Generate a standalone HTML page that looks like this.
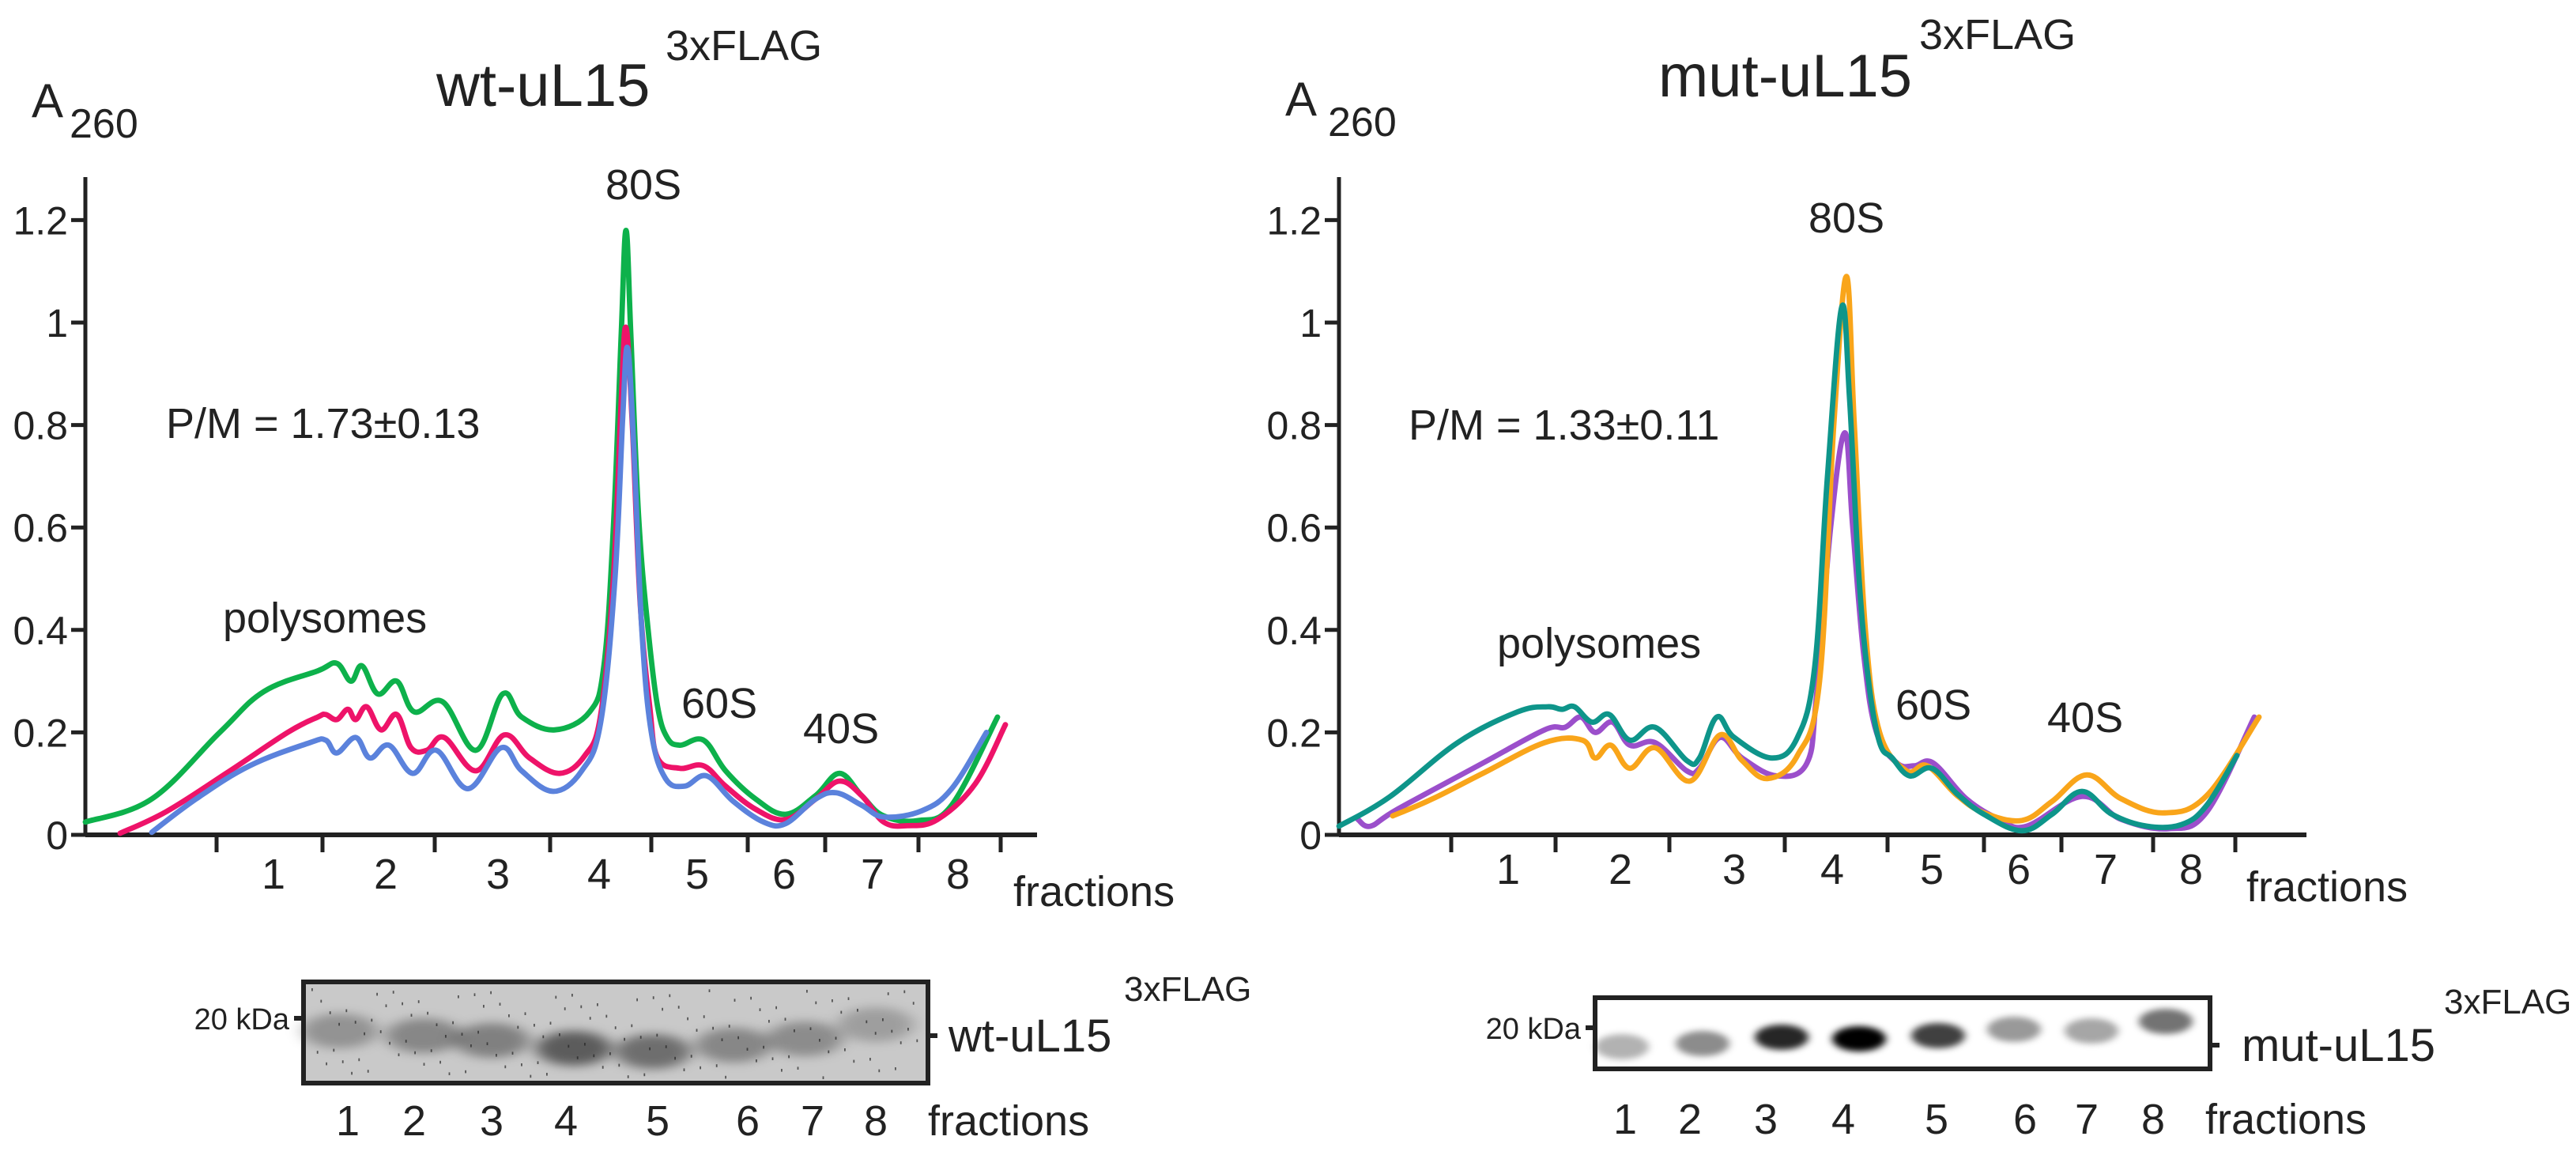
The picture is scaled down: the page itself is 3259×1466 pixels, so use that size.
<!DOCTYPE html>
<html><head><meta charset="utf-8"><style>
html,body{margin:0;padding:0;background:#fff;}
svg{display:block;}
text{font-family:"Liberation Sans",Arial,sans-serif;fill:#222;}
</style></head><body>
<svg id="fig" width="3259" height="1466" viewBox="0 0 1629.5 733" xmlns="http://www.w3.org/2000/svg">
<defs>
<filter id="blur" x="-30%" y="-60%" width="160%" height="220%"><feGaussianBlur stdDeviation="5 3"/></filter>
<filter id="blur2" x="-30%" y="-60%" width="160%" height="220%"><feGaussianBlur stdDeviation="2.5 2"/></filter>
</defs>
<g id="left"></g>
<g id="right"></g>
</svg>
<script>
// ---- data: position along gradient (0..axis length) and A260 ----
const yTicks = [0, 0.2, 0.4, 0.6, 0.8, 1, 1.2];
const yTickLabels = ["0", "0.2", "0.4", "0.6", "0.8", "1", "1.2"];
const fractionLabels = ["1","2","3","4","5","6","7","8"];
const wtGreenPos = [0,42,85,113,147,159,168,175,185,197,208,226,247,264,276,297,319,328,334,339,342,345,350,356,362,368,376,391,405,424,443,462,477,491,505,527,548,577];
const wtGreenVal = [.025,.07,.20,.28,.32,.335,.30,.33,.275,.30,.24,.26,.165,.275,.23,.205,.24,.33,.6,.98,1.18,.98,.62,.40,.25,.19,.175,.185,.125,.07,.04,.077,.12,.077,.037,.028,.058,.23];
const wtPinkPos = [22,51,89,128,147,152,159,166,171,178,187,197,206,216,227,247,265,281,300,316,326,334,339,342,346,351,357,362,376,391,405,424,443,462,477,491,505,520,539,563,582];
const wtPinkVal = [.003,.045,.12,.20,.23,.235,.225,.245,.225,.25,.205,.235,.17,.165,.19,.125,.195,.15,.12,.155,.235,.5,.85,.99,.8,.45,.25,.15,.13,.135,.095,.05,.03,.07,.105,.077,.025,.018,.03,.10,.215];
const wtBluePos = [42,70,104,142,152,159,171,180,192,207,222,242,263,276,296,314,326,335,340,343,347,352,358,367,379,393,410,429,443,462,475,491,505,529,548,570];
const wtBlueVal = [.005,.07,.135,.18,.185,.16,.19,.15,.175,.12,.165,.09,.17,.125,.085,.125,.22,.5,.82,.95,.75,.4,.2,.11,.095,.115,.065,.025,.022,.07,.082,.058,.035,.047,.09,.20];
const mutTealPos = [0,32,75,113,132,141,149,160,171,184,200,220,228,239,250,274,290,301,309,318,323,329,335,342,350,361,375,391,408,432,451,470,489,511,533,549,568];
const mutTealVal = [.017,.074,.18,.24,.25,.245,.25,.22,.235,.185,.21,.145,.15,.23,.19,.15,.19,.33,.7,1.03,.85,.5,.3,.18,.15,.115,.13,.08,.04,.008,.04,.085,.04,.017,.02,.058,.155];
const mutPurplePos = [12,20,37,91,130,143,153,162,173,184,200,220,228,241,255,277,296,302,311,320,325,332,340,353,364,376,397,418,435,470,495,525,549,579];
const mutPurpleVal = [.03,.017,.05,.14,.205,.21,.23,.2,.22,.175,.18,.125,.13,.19,.15,.115,.14,.27,.6,.785,.6,.35,.2,.14,.135,.14,.07,.03,.017,.075,.03,.012,.045,.23];
const mutOrangePos = [34,59,91,130,154,162,172,184,200,222,241,255,271,290,304,313,321,326,333,342,359,372,391,408,432,451,473,495,522,549,582];
const mutOrangeVal = [.037,.07,.12,.18,.185,.15,.175,.13,.17,.105,.195,.145,.11,.155,.30,.8,1.09,.8,.4,.2,.125,.135,.077,.043,.028,.065,.117,.07,.043,.077,.23];
const wtBandIntensity = [0.45,0.55,0.6,0.9,0.75,0.55,0.5,0.35];
const mutBandIntensity = [0.3,0.45,0.85,1.0,0.75,0.4,0.35,0.55];

const NS = "http://www.w3.org/2000/svg";
function mk(parent, tag, attrs, txt){
  const e = document.createElementNS(NS, tag);
  for (const k in attrs) e.setAttribute(k, attrs[k]);
  if (txt !== undefined) e.textContent = txt;
  parent.appendChild(e); return e;
}
function smoothPath(pts){
  let d = "M" + pts[0][0].toFixed(1) + "," + pts[0][1].toFixed(1);
  for (let i=0;i<pts.length-1;i++){
    const p0 = pts[i-1]||pts[i], p1=pts[i], p2=pts[i+1], p3=pts[i+2]||p2;
    const t=0.18;
    const c1=[p1[0]+(p2[0]-p0[0])*t, p1[1]+(p2[1]-p0[1])*t];
    const c2=[p2[0]-(p3[0]-p1[0])*t, p2[1]-(p3[1]-p1[1])*t];
    d += " C"+c1[0].toFixed(1)+","+c1[1].toFixed(1)+" "+c2[0].toFixed(1)+","+c2[1].toFixed(1)+" "+p2[0].toFixed(1)+","+p2[1].toFixed(1);
  }
  return d;
}

function panel(g, cfg){
  const x0=cfg.x0, x1=cfg.x1, len=cfg.len, yBase=528, yPer=324;
  const xS = p => x0 + p*(x1-x0)/len;
  const yS = v => yBase - v*yPer;
  const ya = mk(g,"line",{x1:x0,y1:112,x2:x0,y2:yBase+1,stroke:"#222","stroke-width":2.5});
  
  
  yTicks.forEach((t,i)=>{
    const tk = mk(g,"line",{x1:x0-9,y1:yS(t),x2:x0,y2:yS(t),stroke:"#222","stroke-width":2.5});
    
    
    const lb = mk(g,"text",{x:x0-11,y:yS(t)+9,"font-size":25,"text-anchor":"end"},yTickLabels[i]);
    
    
  });
  const xa = mk(g,"line",{x1:x0,y1:yBase,x2:x1,y2:yBase,stroke:"#222","stroke-width":3});
  
  
  cfg.ticks.forEach(tx=>{
    const t = mk(g,"line",{x1:tx,y1:yBase,x2:tx,y2:yBase+11,stroke:"#222","stroke-width":2.5});
    
    
  });
  fractionLabels.forEach((l,i)=>{
    const t = mk(g,"text",{x:cfg.labX[i],y:cfg.labY,"font-size":27,"text-anchor":"middle"},l);
    
    
  });
  const fr = mk(g,"text",{x:cfg.fracX,y:cfg.labY+11,"font-size":27},"fractions");
  
  
  cfg.series.forEach(s=>{
    const pts = s.pos.map((p,i)=>[xS(p), yS(s.val[i])]);
    const path = mk(g,"path",{d:smoothPath(pts),fill:"none",stroke:s.color,"stroke-width":3.4,"stroke-linejoin":"round","stroke-linecap":"round"});
    
    
  });
  cfg.texts.forEach(t=>{
    const e = mk(g,"text",{x:t[0],y:t[1],"font-size":t[2]},t[3]);
    
    
  });
  const b = cfg.blot;
  const bg = mk(g,"rect",{x:b.x,y:b.y,width:b.w,height:b.h,fill:b.bg});
  
  
  b.lanes.forEach((lx,i)=>{
    const it = b.intens[i];
    const band = mk(g,"ellipse",{cx:lx,cy:b.bandY[i],rx:b.rx,ry:b.ry,fill:"#000","fill-opacity":Math.min(1,it*b.op),filter:b.filter});
    
    
  });
  if (b.speckle){
    for (let k=0;k<140;k++){
      const sx = b.x+5+((k*37.7)%(b.w-10)), sy = b.y+4+((k*19.3)%(b.h-8));
      mk(g,"rect",{x:sx,y:sy,width:0.9,height:1.8,fill:"#222","fill-opacity":0.7});
    }
  }
  const br = mk(g,"rect",{x:b.x,y:b.y,width:b.w,height:b.h,fill:"none",stroke:"#222","stroke-width":3});
  
  
  mk(g,"line",{x1:b.x-6,y1:b.kdaY,x2:b.x,y2:b.kdaY,stroke:"#222","stroke-width":3});
  mk(g,"line",{x1:b.x+b.w,y1:b.protY,x2:b.x+b.w+6,y2:b.protY,stroke:"#222","stroke-width":3});
  const kd = mk(g,"text",{x:b.x-9,y:b.kdaY+7,"font-size":19,"text-anchor":"end"},"20 kDa");
  
  
  b.labX.forEach((lx,i)=>{
    const t = mk(g,"text",{x:lx,y:b.labY,"font-size":27,"text-anchor":"middle"},fractionLabels[i]);
    
    
  });
  const bf = mk(g,"text",{x:b.fracX,y:b.labY,"font-size":27},"fractions");
  
  
  const pl = mk(g,"text",{x:b.protX,y:b.protY+10,"font-size":29},b.prot);
  
  
  const ps = mk(g,"text",{x:b.supX,y:b.supY,"font-size":22},"3xFLAG");
  
  
}

panel(document.getElementById('left'),{
  x0:54, x1:656, len:602,
  ticks:[137,204,275,348,412,473,522,581,633],
  labX:[173,244,315,379,441,496,552,606], labY:562, fracX:641,
  series:[
    {name:'wt-replicate-green-trace',color:'#0db14b',pos:wtGreenPos,val:wtGreenVal},
    {name:'wt-replicate-pink-trace',color:'#ee1369',pos:wtPinkPos,val:wtPinkVal},
    {name:'wt-replicate-blue-trace',color:'#5b82dc',pos:wtBluePos,val:wtBlueVal}
  ],
  texts:[
    [276,67,38,"wt-uL15","panel-title"],[421,38,27,"3xFLAG","title-superscript"],
    [20,74,30,"A","y-axis-title"],[44,87,26,"260","y-axis-subscript"],
    [383,126,27,"80S","peak-label-80s"],[105,277,27,"P/M = 1.73±0.13","pm-ratio"],
    [141,400,27,"polysomes","polysomes-label"],[431,454,27,"60S","peak-label-60s"],[508,470,27,"40S","peak-label-40s"]
  ],
  blot:{x:192,y:621,w:395,h:64,bg:'#c9c9c9',speckle:true,filter:'url(#blur)',op:0.6,rx:24,ry:11,
    lanes:[215,268,311,363,413,464,509,554],bandY:[652,655,658,663,665,661,657,648],intens:wtBandIntensity,
    kdaY:644,protY:655,labX:[220,262,311,358,416,473,514,554],labY:718,fracX:587,
    prot:"wt-uL15",protX:600,supX:711,supY:633}
});

panel(document.getElementById('right'),{
  x0:847, x1:1459, len:612,
  ticks:[918,984,1056,1129,1194,1255,1304,1362,1414],
  labX:[954,1025,1097,1159,1222,1277,1332,1386], labY:559, fracX:1421,
  series:[
    {name:'mut-replicate-purple-trace',color:'#9b4fcb',pos:mutPurplePos,val:mutPurpleVal},
    {name:'mut-replicate-orange-trace',color:'#f9a51a',pos:mutOrangePos,val:mutOrangeVal},
    {name:'mut-replicate-teal-trace',color:'#0e958a',pos:mutTealPos,val:mutTealVal}
  ],
  texts:[
    [1049,61,38,"mut-uL15","panel-title"],[1214,31,27,"3xFLAG","title-superscript"],
    [813,73,30,"A","y-axis-title"],[840,86,26,"260","y-axis-subscript"],
    [1144,147,27,"80S","peak-label-80s"],[891,278,27,"P/M = 1.33±0.11","pm-ratio"],
    [947,416,27,"polysomes","polysomes-label"],[1199,455,27,"60S","peak-label-60s"],[1295,463,27,"40S","peak-label-40s"]
  ],
  blot:{x:1009,y:631,w:389,h:45,bg:'#ffffff',speckle:false,filter:'url(#blur2)',op:1.0,rx:17,ry:8,
    lanes:[1026,1077,1127,1176,1226,1274,1323,1370],bandY:[662,660,656,657,655,651,652,646],intens:mutBandIntensity,
    kdaY:650,protY:661,labX:[1028,1069,1117,1166,1225,1281,1320,1362],labY:717,fracX:1395,
    prot:"mut-uL15",protX:1418,supX:1546,supY:641}
});
</script>
</body></html>
